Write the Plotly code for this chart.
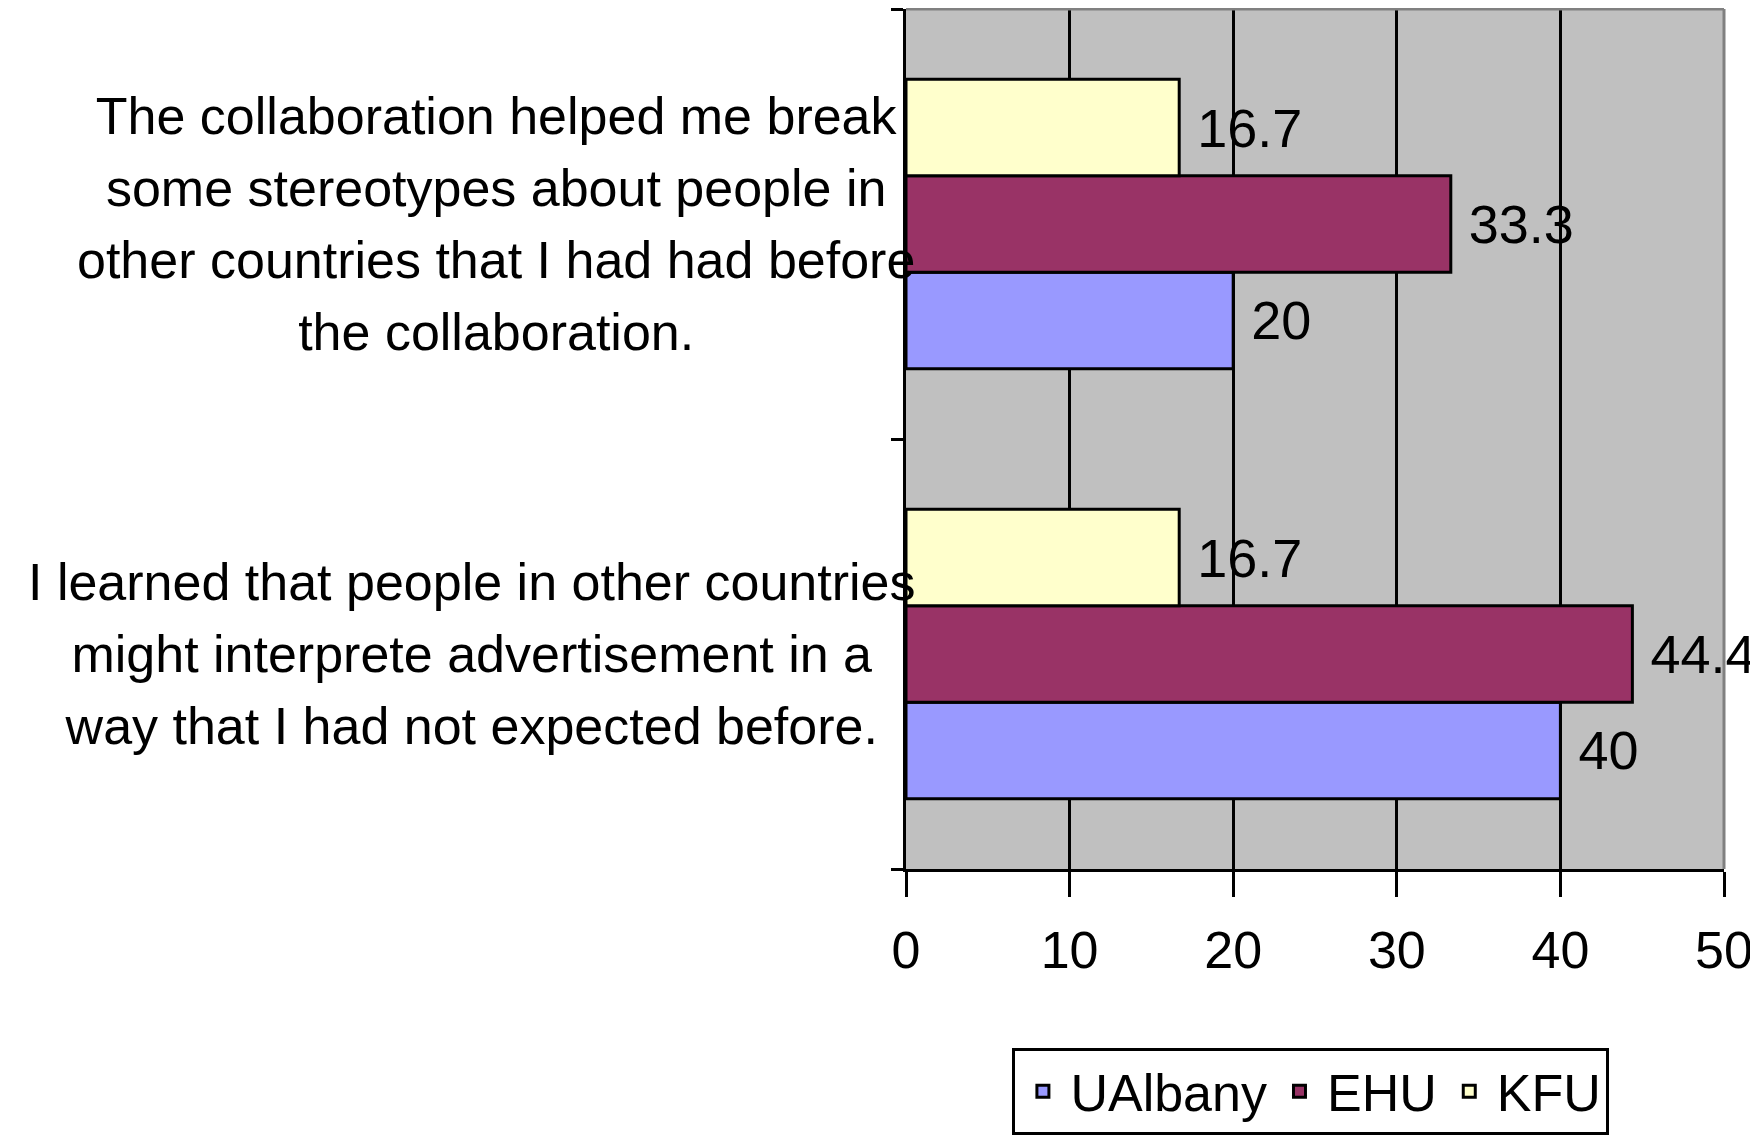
import plotly.graph_objects as go

# survey statements (bottom to top on the chart), one list of lines each
statements = [
    ["I learned that people in other countries",
     "might interprete advertisement in a",
     "way that I had not expected before."],
    ["The collaboration helped me break",
     "some stereotypes about people in",
     "other countries that I had had before",
     "the collaboration."],
]
categories = ["learned", "stereotypes"]

ualbany = [40, 20]
ehu = [44.4, 33.3]
kfu = [16.7, 16.7]

x_ticks = [0, 10, 20, 30, 40, 50]

FONT = "Liberation Sans, Arial, sans-serif"

fig = go.Figure()

for name, vals, color in [
    ("UAlbany", ualbany, "#9999FF"),
    ("EHU", ehu, "#993366"),
    ("KFU", kfu, "#FFFFCC"),
]:
    fig.add_trace(go.Bar(
        y=categories,
        x=vals,
        name=name,
        orientation="h",
        marker=dict(color=color, line=dict(color="black", width=3)),
        texttemplate="\u00a0%{x}",
        textposition="outside",
        textfont=dict(family=FONT, size=54, color="black"),
        cliponaxis=False,
    ))

# statement labels: right-aligned block, centred lines, looser line spacing
for cat, lines in zip(categories, statements):
    txt = "<br>".join('<span style="font-size:52px">%s</span>' % ln for ln in lines)
    fig.add_annotation(
        x=0.0134, xref="paper", y=cat, yref="y",
        text=txt, showarrow=False,
        xanchor="right", yanchor="middle", align="center",
        font=dict(family=FONT, size=55.5, color="black"),
    )

# grey top/right border
fig.add_shape(type="line", xref="paper", yref="paper", x0=0, x1=1, y0=1, y1=1,
              line=dict(color="#808080", width=3))
fig.add_shape(type="line", xref="paper", yref="paper", x0=1, x1=1, y0=0, y1=1,
              line=dict(color="#808080", width=3))

fig.update_layout(
    width=1750,
    height=1133,
    barmode="group",
    bargap=0.327,
    bargroupgap=0,
    paper_bgcolor="white",
    plot_bgcolor="#C0C0C0",
    margin=dict(l=898, r=34, t=1, b=272, autoexpand=False),
    legend=dict(
        orientation="h",
        x=0.495, xanchor="center",
        y=-0.208, yanchor="top",
        traceorder="normal",
        font=dict(family=FONT, size=52, color="black"),
        bordercolor="black",
        borderwidth=3,
        bgcolor="white",
        itemwidth=45,
    ),
    xaxis=dict(
        range=[0, 50],
        tickvals=x_ticks,
        ticks="outside",
        ticklen=25,
        tickwidth=3,
        tickcolor="black",
        ticklabelstandoff=9,
        tickfont=dict(family=FONT, size=52, color="black"),
        showgrid=True,
        gridcolor="black",
        gridwidth=3,
        zeroline=False,
        showline=True,
        linecolor="black",
        linewidth=3,
        automargin=False,
    ),
    yaxis=dict(
        range=[-0.5, 1.5],
        showticklabels=False,
        ticks="outside",
        tickson="boundaries",
        ticklen=12,
        tickwidth=3,
        tickcolor="black",
        showgrid=False,
        showline=True,
        linecolor="black",
        linewidth=3,
        automargin=False,
    ),
)

fig.write_html("out.html")
